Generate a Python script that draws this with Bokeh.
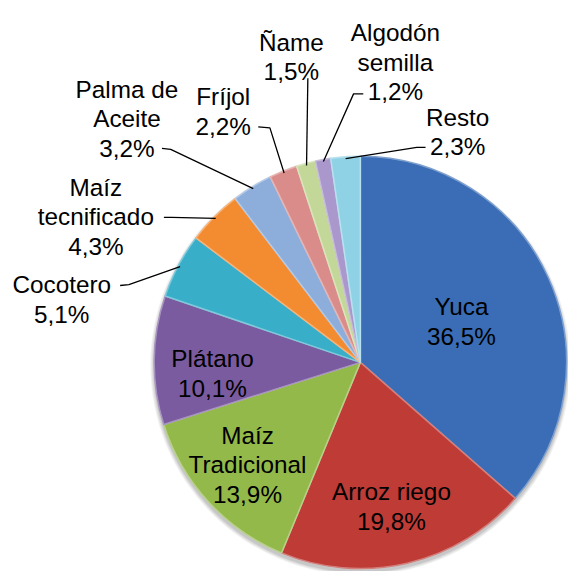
import math
from bokeh.plotting import figure
from bokeh.models import Range1d, ColumnDataSource
from bokeh.core.properties import value
from bokeh.embed import file_html
from bokeh.resources import INLINE

# ---------------- data ----------------
categories = ["Yuca", "Arroz riego", "Maíz Tradicional", "Plátano", "Cocotero",
              "Maíz tecnificado", "Palma de Aceite", "Fríjol", "Ñame",
              "Algodón semilla", "Resto"]
shares = [36.5, 19.8, 13.9, 10.1, 5.1, 4.3, 3.2, 2.2, 1.5, 1.2, 2.3]
label_lines = [["Yuca"], ["Arroz riego"], ["Maíz", "Tradicional"], ["Plátano"],
               ["Cocotero"], ["Maíz", "tecnificado"], ["Palma de", "Aceite"],
               ["Fríjol"], ["Ñame"], ["Algodón", "semilla"], ["Resto"]]

# ---------------- styles / layout ----------------
colors = ["#3A6DB5", "#BE3B36", "#93B94A", "#7A5BA0", "#39AEC8", "#F38B31",
          "#8DAEDB", "#DA8C8A", "#C3D898", "#AA97CB", "#8FD2E6"]
W, H = 584, 587              # reference picture size (data units)
PW, PH = 568, 571            # figure size in screen pixels
CX, CY, R = 370, 372, 212    # pie centre / radius in picture coords
FONT = "Liberation Sans"
FSIZE = "%.1fpx" % (25 * PW / W)
STEP = 30.5
# label anchor: centre x, first baseline y (picture coords)
label_pos = [(474, 315), (402, 505), (254, 447), (218, 368), (63, 292),
             (98, 192), (130, 91), (229, 99), (299, 43), (406, 33), (470, 120)]
# leader line: start near text, elbow (picture coords); None = inside label
leaders = [None, None, None, None,
           ((123, 293), (132, 292)), ((168, 223), (176, 223)),
           ((166, 152), (175, 153)), ((265, 130), (277, 131)),
           ((316, 80), (316, 80)), ((373, 96), (363, 96)),
           ((437, 151), (428, 151))]


def Y(y):
    return H - y


def tint(hexc, f):
    r, g, b = (int(hexc[i:i + 2], 16) for i in (1, 3, 5))
    r, g, b = (int(c + (255 - c) * f) for c in (r, g, b))
    return "#%02x%02x%02x" % (r, g, b)


p = figure(width=PW, height=PH, output_backend="svg", toolbar_location=None,
           x_range=Range1d(0, W), y_range=Range1d(0, H), min_border=0)
p.axis.visible = False
p.grid.visible = False
p.outline_line_color = None
p.background_fill_color = "white"
p.border_fill_color = "white"

# soft shadow
for k, a in enumerate([0.05, 0.05, 0.06, 0.07]):
    p.circle(x=[CX], y=[Y(CY) - 3], radius=R + 4 - k, fill_color="#000000",
             fill_alpha=a, line_color=None)

total = sum(shares)
starts, ends, mids = [], [], []
cum = 0.0
for s in shares:
    a0 = math.pi / 2 - 2 * math.pi * cum / total
    cum += s
    a1 = math.pi / 2 - 2 * math.pi * cum / total
    starts.append(a1)
    ends.append(a0)
    mids.append((a0 + a1) / 2)

src = ColumnDataSource(dict(x=[CX] * len(shares), y=[Y(CY)] * len(shares),
                            start=starts, end=ends, color=colors,
                            edge=[tint(c, 0.35) for c in colors]))
p.wedge(x="x", y="y", radius=R, start_angle="start", end_angle="end",
        fill_color="color", line_color="edge", line_width=1.5, source=src)

# leader lines
for i, ld in enumerate(leaders):
    if ld is None:
        continue
    (sx, sy), (ex, ey) = ld
    px = CX + R * 0.99 * math.cos(mids[i])
    py = Y(CY) + R * 0.99 * math.sin(mids[i])
    p.line(x=[sx, ex, px], y=[Y(sy), Y(ey), py], line_color="black",
           line_width=1.3)

# labels
for i, lines in enumerate(label_lines):
    pct = ("%.1f" % shares[i]).replace(".", ",") + "%"
    allines = lines + [pct]
    cx, by = label_pos[i]
    p.text(x=[cx] * len(allines), y=[Y(by + STEP * k) for k in range(len(allines))],
           text=allines, text_align="center", text_baseline="alphabetic",
           text_font=value(FONT), text_font_size=FSIZE, text_color="black")

open("out.html", "w").write(file_html(p, INLINE))
